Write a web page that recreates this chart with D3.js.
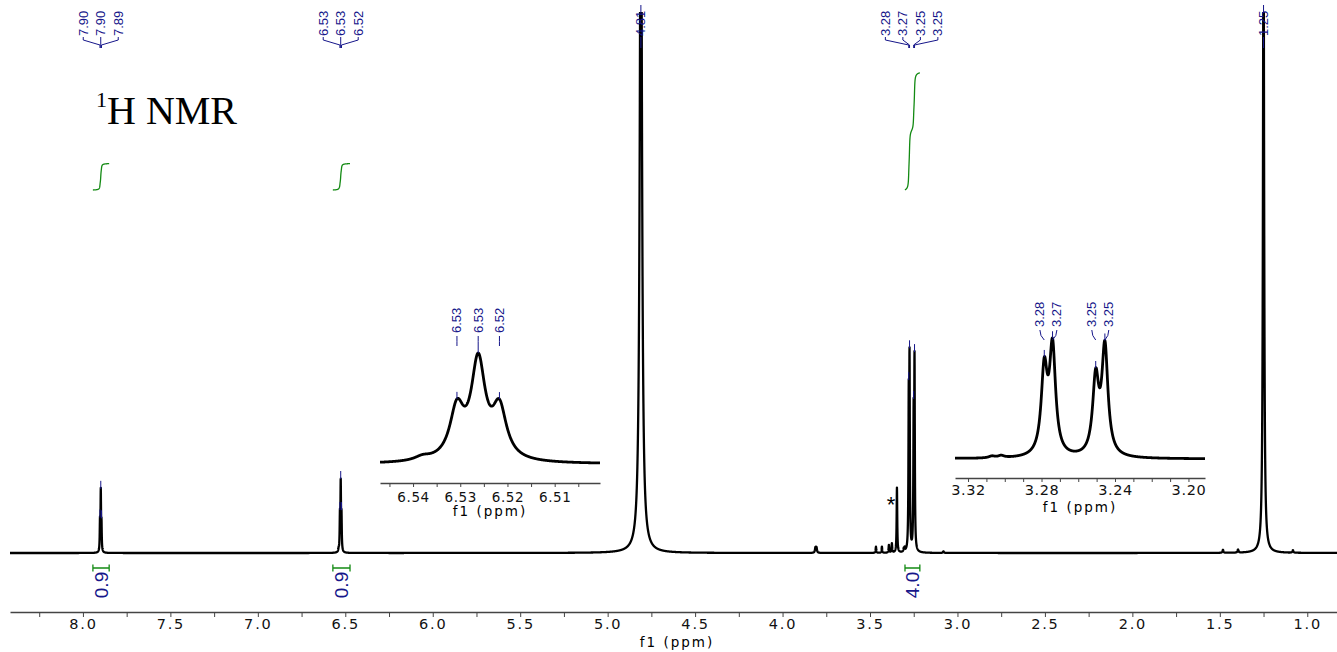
<!DOCTYPE html>
<html><head><meta charset="utf-8">
<script src="https://cdn.jsdelivr.net/npm/d3@7"></script>
<style>body{margin:0;background:#fff;} svg{display:block;background:#fff}</style>
</head><body>
<svg id="c" width="1337" height="652"></svg>
<script>
// ---------------- data ----------------
const peakPpm    = [7.9025,7.8980,7.8940, 6.5380,6.5307,6.5262,6.5217, 4.8100, 3.8120,3.8060, 3.4660,3.4320,3.3920,3.3750, 3.3460, 3.3070,3.3020, 3.2785,3.2740,3.2505,3.2455, 3.0800, 1.4820,1.3960, 1.2500, 1.0820];
const peakHeight = [0.055,0.112,0.050, 0.005,0.0648,0.1274,0.0648, 1.50, 0.010,0.010, 0.012,0.012,0.015,0.018, 0.126, 0.006,0.007, 0.277,0.350,0.248,0.355, 0.003, 0.006,0.006, 1.30, 0.005];
const peakHwhm   = [0.0017,0.0017,0.0017, 0.0020,0.00181,0.00181,0.00181, 0.0071, 0.003,0.003, 0.002,0.002,0.002,0.002, 0.002, 0.002,0.002, 0.0020,0.0020,0.0020,0.0020, 0.003, 0.003,0.003, 0.0038, 0.003];

const mainLabelPpm  = [7.9025,7.8980,7.8940, 6.5307,6.5262,6.5217, 4.8100, 3.2785,3.2740,3.2505,3.2455, 1.2500];
const mainLabelText = ["7.90","7.90","7.89","6.53","6.53","6.52","4.81","3.28","3.27","3.25","3.25","1.25"];

const inset1LabelPpm  = [6.5307,6.5262,6.5217];
const inset1LabelText = ["6.53","6.53","6.52"];
const inset2LabelPpm  = [3.2785,3.2740,3.2505,3.2455];
const inset2LabelText = ["3.28","3.27","3.25","3.25"];

const integralFrom  = [7.943, 6.571, 3.300];
const integralTo    = [7.850, 6.473, 3.215];
const integralValue = [0.9, 0.9, 4.0];
const integralText  = ["0.9","0.9","4.0"];

const mainTicks  = [8.0,7.5,7.0,6.5,6.0,5.5,5.0,4.5,4.0,3.5,3.0,2.5,2.0,1.5,1.0];
const mainMinor  = [8.25,7.75,7.25,6.75,6.25,5.75,5.25,4.75,4.25,3.75,3.25,2.75,2.25,1.75,1.25];
const inset1Ticks = [6.54,6.53,6.52,6.51];
const inset1Minor = [6.545,6.535,6.525,6.515,6.505];
const inset2Ticks = [3.32,3.28,3.24,3.20];
const inset2Minor = [3.31,3.30,3.29,3.27,3.26,3.25,3.23,3.22,3.21];

// ---------------- helpers ----------------
const BLUE = "#16168a", GREEN = "#138a13";
const svg = d3.select('#c');
const spec = p => { let s = 0; for (let i = 0; i < peakPpm.length; i++) { const d = p - peakPpm[i], g = peakHwhm[i]; s += peakHeight[i] * g * g / (d * d + g * g); } return s; };
const sample = (a, b, step) => { const n = Math.round(Math.abs(b - a) / step); return d3.range(n + 1).map(k => { const p = a + (b - a) * k / n; return { p, v: spec(p) }; }); };
function spread(xs, sp) {
  const cl = [];
  xs.forEach((v, i) => {
    cl.push({ sum: v, n: 1, idx: [i] });
    while (cl.length > 1) {
      const a = cl[cl.length - 2], b = cl[cl.length - 1];
      const aEnd = a.sum / a.n + (a.n - 1) * sp / 2, bStart = b.sum / b.n - (b.n - 1) * sp / 2;
      if (bStart - aEnd < sp) { a.sum += b.sum; a.n += b.n; a.idx = a.idx.concat(b.idx); cl.pop(); } else break;
    }
  });
  const out = [];
  cl.forEach(c => { const m = c.sum / c.n; c.idx.forEach((i, k) => out[i] = m + (k - (c.n - 1) / 2) * sp); });
  return out;
}
function styleAxis(g, font, size, spacing) {
  g.attr('font-family', font).attr('font-size', size);
  g.selectAll('path.domain').attr('stroke', '#444').attr('stroke-width', 1.3);
  g.selectAll('.tick line').attr('stroke', '#444');
  g.selectAll('.tick text').attr('fill', '#111').attr('letter-spacing', spacing);
}

// ---------------- main spectrum ----------------
const x = d3.scaleLinear().domain([8.417, 0.830]).range([10, 1337]);
const y = d3.scaleLinear().domain([0, 1]).range([553, 38]);

svg.append('clipPath').attr('id', 'clipMain').append('rect').attr('x', 10).attr('y', 12).attr('width', 1327).attr('height', 600);
const mainData = sample(8.417, 0.830, 0.0005);
svg.append('path').datum(mainData).attr('clip-path', 'url(#clipMain)')
  .attr('d', d3.line().x(d => x(d.p)).y(d => y(d.v)))
  .attr('fill', 'none').attr('stroke', '#000').attr('stroke-width', 2.3).attr('stroke-linejoin', 'round');

// main axis
const ax = svg.append('g').attr('transform', 'translate(0,612)');
ax.call(d3.axisBottom(x).tickValues(mainTicks).tickFormat(d3.format('.1f')).tickSize(5).tickPadding(2).tickSizeOuter(0));
styleAxis(ax, 'DejaVu Sans', 14.5, 1.8);
const axm = ax.append('g').call(d3.axisBottom(x).tickValues(mainMinor).tickFormat('').tickSize(5).tickSizeOuter(0));
axm.select('.domain').remove(); axm.selectAll('.tick line').attr('stroke', '#444');
svg.append('text').attr('x', 677).attr('y', 647).attr('text-anchor', 'middle')
  .attr('font-family', 'DejaVu Sans').attr('font-size', 13.5).attr('letter-spacing', 2).text('f1 (ppm)');

// main peak labels
const mainPx = mainLabelPpm.map(p => x(p));
const mainLx = spread(mainPx, 17.5);
const ml = svg.append('g');
mainLabelText.forEach((t, i) => {
  ml.append('text').attr('transform', `translate(${mainLx[i]},36) rotate(-90)`)
    .attr('font-family', 'Liberation Sans Narrow, Arial Narrow, sans-serif').attr('font-size', 13)
    .attr('dominant-baseline', 'central').attr('fill', BLUE).text(t);
  ml.append('path').attr('d', `M${mainLx[i]},37 V40 L${mainPx[i]},45 V48`).attr('fill', 'none').attr('stroke', BLUE).attr('stroke-width', 1);
  const top = Math.max(12, y(spec(mainLabelPpm[i])));
  ml.append('line').attr('x1', mainPx[i]).attr('x2', mainPx[i]).attr('y1', top - 7).attr('y2', top + 1).attr('stroke', BLUE).attr('stroke-width', 1);
});

// integrals
integralFrom.forEach((f, i) => {
  const pts = sample(f, integralTo[i], 0.0002);
  let c = 0; const cum = pts.map(d => (c += d.v));
  const tot = cum[cum.length - 1];
  const line = d3.line().x(d => x(d.p)).y((d, k) => 190 - integralValue[i] * 29.3 * cum[k] / tot);
  svg.append('path').datum(pts).attr('d', line).attr('fill', 'none').attr('stroke', GREEN).attr('stroke-width', 1.3);
  const x1 = x(f), x2 = x(integralTo[i]);
  svg.append('path').attr('d', `M${x1},564.5 V571.5 M${x1},568 H${x2} M${x2},564.5 V571.5`).attr('fill', 'none').attr('stroke', GREEN).attr('stroke-width', 1.3);
  svg.append('text').attr('transform', `translate(${(x1 + x2) / 2},585) rotate(-90)`)
    .attr('text-anchor', 'middle').attr('dominant-baseline', 'central')
    .attr('font-family', 'Liberation Sans, Arial, sans-serif').attr('font-size', 19).attr('fill', BLUE).text(integralText[i]);
});

// star and title
svg.append('text').attr('x', 891).attr('y', 512).attr('text-anchor', 'middle')
  .attr('font-family', 'Liberation Sans, Arial, sans-serif').attr('font-size', 22).attr('fill', '#000').text('*');
const title = svg.append('text').attr('font-family', 'Liberation Serif, Times New Roman, serif').attr('fill', '#000');
title.append('tspan').attr('x', 96).attr('y', 107).attr('font-size', 22).text('1');
title.append('tspan').attr('x', 107).attr('y', 124).attr('font-size', 40).text('H NMR');

// ---------------- insets ----------------
function inset(cfg) {
  const xs = d3.scaleLinear().domain(cfg.domain).range(cfg.range);
  const data = sample(cfg.domain[0], cfg.domain[1], 0.00005);
  const ys = d3.scaleLinear().domain([0, d3.max(data, d => d.v)]).range([cfg.base, cfg.top]);
  svg.append('path').datum(data).attr('d', d3.line().x(d => xs(d.p)).y(d => ys(d.v)))
    .attr('fill', 'none').attr('stroke', '#000').attr('stroke-width', 2.8).attr('stroke-linejoin', 'round');
  const g = svg.append('g').attr('transform', `translate(0,${cfg.axisY})`);
  g.call(d3.axisBottom(xs).tickValues(cfg.ticks).tickFormat(d3.format('.2f')).tickSize(4).tickPadding(cfg.pad).tickSizeOuter(0));
  styleAxis(g, 'DejaVu Sans', cfg.font, cfg.spacing);
  const gm = g.append('g').call(d3.axisBottom(xs).tickValues(cfg.minor).tickFormat('').tickSize(4).tickSizeOuter(0));
  gm.select('.domain').remove(); gm.selectAll('.tick line').attr('stroke', '#444');
  svg.append('text').attr('x', (cfg.range[0] + cfg.range[1]) / 2).attr('y', cfg.f1Y).attr('text-anchor', 'middle')
    .attr('font-family', 'DejaVu Sans').attr('font-size', 13.5).attr('letter-spacing', 2).text('f1 (ppm)');
  const px = cfg.labelPpm.map(p => xs(p));
  const lx = spread(px, 17);
  cfg.labelText.forEach((t, i) => {
    svg.append('text').attr('transform', `translate(${lx[i]},${cfg.labelBottom}) rotate(-90)`)
      .attr('font-family', 'Liberation Sans Narrow, Arial Narrow, sans-serif').attr('font-size', 13)
      .attr('dominant-baseline', 'central').attr('fill', BLUE).text(t);
    const b = cfg.labelBottom + 3;
    svg.append('path').attr('d', `M${lx[i]},${b} Q${lx[i]},${b + 6} ${px[i]},${b + 10}`).attr('fill', 'none').attr('stroke', BLUE).attr('stroke-width', 1);
    const top = ys(spec(cfg.labelPpm[i]));
    svg.append('line').attr('x1', px[i]).attr('x2', px[i]).attr('y1', top - 7).attr('y2', top).attr('stroke', BLUE).attr('stroke-width', 1);
  });
}
inset({ domain: [6.5470, 6.5004], range: [380, 600], base: 464, top: 353, axisY: 483, pad: 5, font: 13.5, spacing: 0.6,
        ticks: inset1Ticks, minor: inset1Minor, f1Y: 516, labelPpm: inset1LabelPpm, labelText: inset1LabelText, labelBottom: 333 });
inset({ domain: [3.3271, 3.1910], range: [955, 1205], base: 459, top: 338, axisY: 478, pad: 3, font: 14.5, spacing: 0.6,
        ticks: inset2Ticks, minor: inset2Minor, f1Y: 512, labelPpm: inset2LabelPpm, labelText: inset2LabelText, labelBottom: 327 });
</script>
</body></html>
